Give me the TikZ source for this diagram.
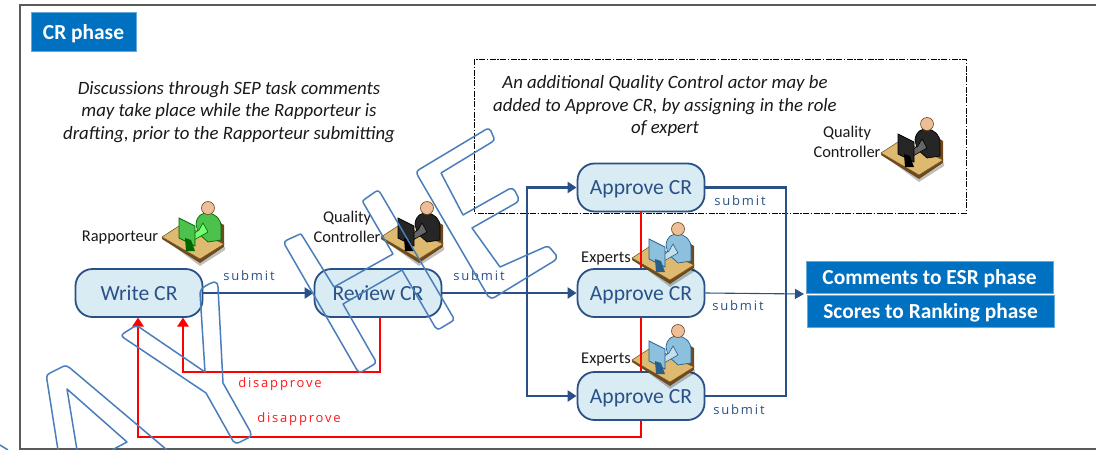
\documentclass[tikz,border=0pt]{standalone}
\usepackage{fontspec}
\setmainfont{Carlito}
\newfontfamily\lblfont[LetterSpace=14]{Open Sans}
\usetikzlibrary{arrows.meta}
\definecolor{flowblue}{HTML}{2A5187}
\definecolor{taskfill}{HTML}{DAECF3}
\definecolor{headfill}{HTML}{0070C0}
\definecolor{markblue}{HTML}{4A7EBB}
\definecolor{framegray}{HTML}{5A5A5A}
\definecolor{skin}{HTML}{EDBE98}
\definecolor{deskc}{HTML}{DEBA70}
\definecolor{deske}{HTML}{6E4A1C}
\newcommand{\deskactor}[5]{%
\begin{scope}[shift={(#1,#2)}]
 \fill[black,opacity=.25] (2,2) -- (38,26) -- (63,10) -- (63,13) -- (38,29) -- cycle;
 \fill[deske] (0,0) -- (38,22) -- (62,7) -- (62,10) -- (38,26) -- (0,2) -- cycle;
 \fill[deske] (57,-15) -- (62,-12) -- (62,7) -- (57,8) -- cycle;
 \filldraw[fill=deskc,draw=deske,line width=.5pt] (0,0) -- (20,-13) -- (62,7) -- (38,22) -- cycle;
 \filldraw[fill=#3,draw=#4,line width=.7pt] (34,-13) .. controls (35,-22) and (40,-24) .. (46,-24) .. controls (54,-23) and (59,-18) .. (59,-10) -- (59,3) -- (46,5) -- (36,-4) -- cycle;
 \filldraw[fill=#5,draw=#4,line width=.6pt] (41,-14) -- (46,-5) -- (32,3) -- (28,-1) -- (37,-7) -- cycle;
 \filldraw[fill=skin,draw=deske,line width=.6pt] (46,-29) circle (6.5);
 \filldraw[fill=#3,draw=#4,line width=.7pt] (17,-19) -- (33,-11) -- (33,9) -- (17,1) -- cycle;
 \fill[#4] (23,1) -- (29,3) -- (33,14) -- (24,14) -- cycle;
\end{scope}}
\colorlet{gmain}{green!65!black!70!white}
\colorlet{gdark}{green!40!black}
\colorlet{glight}{green!55!white}
\colorlet{kmain}{black!85}
\colorlet{kdark}{black}
\colorlet{klight}{black!60}
\definecolor{bmain}{HTML}{8CC0DC}
\definecolor{bdark}{HTML}{2A5F8A}
\definecolor{blight}{HTML}{C4E0EE}
\tikzset{
 task/.style={draw=flowblue,line width=1.8pt,fill=taskfill,rounded corners=17pt,minimum width=127pt,minimum height=48pt,inner sep=0pt,text=flowblue,text height=16pt,text depth=1.5pt,font=\fontsize{21.6}{24}\selectfont},
 head/.style={fill=headfill,draw=headfill!60!white,line width=.5pt,text=white,inner sep=0pt,text height=16pt,text depth=1pt,font=\bfseries\fontsize{21.4}{24}\selectfont},
 note/.style={align=center,font=\itshape\fontsize{18.8}{22.5}\selectfont,text=black!90,inner sep=0pt},
 who/.style={font=\fontsize{16.4}{20}\selectfont,align=center,inner sep=0pt,text=black!90},
 flowlbl/.style={font=\lblfont\fontsize{13}{15}\selectfont,text=flowblue,inner sep=0pt},
 redlbl/.style={font=\lblfont\fontsize{13}{15}\selectfont,text=red!90!white,inner sep=0pt},
 flow/.style={draw=flowblue,line width=2.5pt},
 flowarrow/.style={flow,-{Triangle[length=9pt,width=11pt]}},
 back/.style={draw=red,line width=2.7pt},
 backarrow/.style={back,-{Triangle[length=9pt,width=11pt]}},
 wmark/.style={draw=markblue,line width=1.5pt,line join=round},
}
\begin{document}
\begin{tikzpicture}[x=1pt,y=-1pt]
\useasboundingbox (0,0) rectangle (1096,450);
\fill[white] (0,0) rectangle (1096,450);
\draw[framegray,line width=1.4pt] (1100,5) -- (20,5) -- (20,449) -- (1100,449);
\draw[black,line width=.9pt,dash pattern=on 6pt off 1.5pt on 1.5pt off 1.5pt] (474,59) rectangle (966,213);

\node[head,minimum width=105pt,minimum height=39pt] (phase) at (83.5,32) {CR phase};
\node[note] (note1) at (229,112) {Discussions through SEP task comments\\may take place while the Rapporteur is\\drafting, prior to the Rapporteur submitting};
\node[note,align=center] (note2) at (665,106) {An additional Quality Control actor may be\\added to Approve CR, by assigning in the role\\of expert};

\node[who] (rapp) at (120,238) {Rapporteur};
\node[who] (qc1) at (347,227) {Quality\\Controller};
\node[who] (qc2) at (847,142) {Quality\\Controller};
\node[who] (exp1) at (606,259) {Experts};
\node[who] (exp2) at (606,360) {Experts};

\node[task] (write) at (139,293) {Write CR};
\node[task] (review) at (378,293) {Review CR};
\node[task] (app1) at (641,187.5) {Approve CR};
\node[task] (app2) at (641,293) {Approve CR};
\node[task] (app3) at (641,396) {Approve CR};

\deskactor{162}{237}{gmain}{gdark}{glight}
\deskactor{381}{237}{kmain}{kdark}{klight}
\deskactor{881}{153}{kmain}{kdark}{klight}
\deskactor{632}{258}{bmain}{bdark}{blight}
\deskactor{632}{360}{bmain}{bdark}{blight}

\node[head,minimum width=247pt,minimum height=32pt] (esr) at (929.5,277) {Comments to ESR phase};
\node[head,minimum width=247pt,minimum height=32pt] (rank) at (930.5,311) {Scores to Ranking phase};

\coordinate (hub) at (527,293);
\coordinate (outtip) at (804,294);
\draw[flowarrow] (write) -- (review);
\draw[flow] (review) -- (hub);
\draw[flowarrow] (hub) -- (app2);
\draw[flowarrow] (hub) |- (app1);
\draw[flowarrow] (hub) |- (app3);
\draw[flow] (app1.east) -- (786,187.5) -- (786,396) -- (app3.east);
\draw[draw=flowblue,line width=1.1pt,-{Triangle[length=9pt,width=10pt]}] (app2.east) -- (outtip);

\draw[back] (app1.south) -- (app2.north);
\draw[back] (app2.south) -- (app3.north);
\draw[backarrow] ([xshift=2pt]review.south) -- (380,372) -- (183,372) -- (183,317.5);
\draw[backarrow] (app3.south) -- (641,437) -- (138,437) -- (138,317.5);

\node[flowlbl] (s1) at (249,276) {submit};
\node[flowlbl] (s2) at (479,276) {submit};
\node[flowlbl] (s3) at (740,201) {submit};
\node[flowlbl] (s4) at (738,306) {submit};
\node[flowlbl] (s5) at (739,410) {submit};
\node[redlbl] (d1) at (280,384) {disapprove};
\node[redlbl] (d2) at (299,419) {disapprove};

% outlined watermark letters
\draw[wmark] (58,450) -- (47,380) .. controls (46,375) and (48,374) .. (50,373) -- (62,367) .. controls (65,365) and (68,366) .. (70,368) -- (167,450);
\draw[wmark] (77,450) -- (67,389) -- (127,442) -- (112,450);
\draw[wmark] (0,445) -- (8,450);
\draw[wmark] (205,372) -- (200,293) .. controls (200,288) and (208,284) .. (214,282) .. controls (217,282) and (218,284) .. (218,287) -- (223,383) -- (250,431) .. controls (252,436) and (250,437) .. (248,438) -- (240,442) .. controls (237,444) and (235,443) .. (233,441) -- (206,393) -- (124,338) .. controls (121,336) and (122,334) .. (124,333) -- (132,328) .. controls (135,326) and (137,326) .. (139,327) -- cycle;
\draw[wmark] (285,245) .. controls (284,242) and (285,241) .. (287,240) -- (298,235) .. controls (301,233) and (302,235) .. (303,237) -- (334,287) -- (393,254) -- (364,204) .. controls (362,201) and (363,200) .. (365,199) -- (375,192) .. controls (378,190) and (379,191) .. (381,194) -- (453,317) .. controls (454,320) and (453,321) .. (451,322) -- (441,328) .. controls (438,330) and (437,329) .. (435,327) -- (402,270) -- (343,304) -- (375,360) .. controls (376,363) and (375,364) .. (373,365) -- (363,371) .. controls (360,373) and (359,372) .. (357,370) -- cycle;
\draw[wmark] (418,176) .. controls (416,172) and (417,171) .. (420,169) -- (485,130) .. controls (488,128) and (490,129) .. (491,131) -- (493,136) .. controls (495,139) and (494,141) .. (492,142) -- (441,173) -- (463,215) -- (509,189) .. controls (512,188) and (514,189) .. (515,191) -- (518,197) .. controls (519,200) and (518,202) .. (516,203) -- (472,228) -- (500,267) -- (545,247) .. controls (548,246) and (550,247) .. (551,249) -- (556,255) .. controls (557,258) and (556,260) .. (554,261) -- (495,297) .. controls (492,299) and (490,298) .. (488,296) -- cycle;
\end{tikzpicture}
\end{document}
